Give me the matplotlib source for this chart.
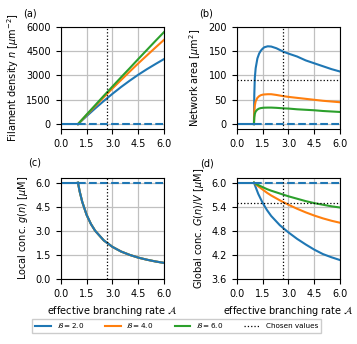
import matplotlib
matplotlib.use("Agg")
import matplotlib.pyplot as plt

plt.rcParams['font.size'] = 7

# effective branching rate grid
A = [1.0, 1.5, 2.0, 2.5, 3.0, 3.5, 4.0, 4.5, 5.0, 5.5, 6.0]
A_b = [1.0, 1.02, 1.05, 1.1, 1.2, 1.3, 1.4, 1.5, 1.6, 1.8, 2.0, 2.3, 2.7,
       3.0, 3.5, 4.0, 4.5, 5.0, 5.5, 6.0]
A_c = [1.0, 1.1, 1.25, 1.5, 1.75, 2.0, 2.5, 3.0, 3.5, 4.0, 4.5, 5.0, 5.5, 6.0]
A_d = [1.0, 1.25, 1.5, 1.75, 2.0, 2.5, 3.0, 3.5, 4.0, 4.5, 5.0, 5.5, 6.0]

B_labels = [r'$\mathcal{B} = 2.0$', r'$\mathcal{B} = 4.0$', r'$\mathcal{B} = 6.0$']
colors = ['tab:blue', 'tab:orange', 'tab:green']

# (a) filament density
dens_B2 = [0, 490, 970, 1430, 1870, 2290, 2680, 3050, 3390, 3710, 4020]
dens_B4 = [0, 560, 1110, 1660, 2200, 2720, 3240, 3750, 4240, 4730, 5210]
dens_B6 = [0, 590, 1170, 1750, 2320, 2890, 3450, 4020, 4580, 5140, 5690]

# (b) network area
area_B2 = [0, 60, 95, 115, 135, 145, 151, 155, 158, 160, 159.5, 156, 149,
           145, 139, 131, 125, 119, 113, 108]
area_B4 = [0, 25, 38, 47, 54, 57.5, 59.5, 60.5, 61, 61.5, 61.5, 60, 57.5,
           56, 54, 52, 50, 48, 46.5, 45]
area_B6 = [0, 14, 21, 26, 30, 32, 33, 33.5, 33.8, 34, 34, 33.5, 32.5,
           32, 30.5, 29.5, 28.5, 27, 26, 25]

# (c) local concentration (same for all B)
local_g = [6.0, 5.45, 4.8, 4.0, 3.43, 3.0, 2.4, 2.0, 1.71, 1.5, 1.33, 1.2,
           1.09, 1.0]

# (d) global concentration
glob_B2 = [6.0, 5.72, 5.5, 5.32, 5.17, 4.94, 4.76, 4.6, 4.46, 4.33, 4.22,
           4.14, 4.07]
glob_B4 = [6.0, 5.91, 5.83, 5.75, 5.68, 5.56, 5.45, 5.35, 5.26, 5.18, 5.11,
           5.05, 5.0]
glob_B6 = [6.0, 5.94, 5.89, 5.84, 5.8, 5.73, 5.66, 5.6, 5.54, 5.49, 5.45,
           5.41, 5.38]

# trivial branch
A_triv_stable = [0.0, 1.0]
A_triv_unstable = [1.0, 6.0]

# chosen values
A_chosen = 2.7
area_chosen = 90
glob_chosen = 5.5

fig = plt.figure(figsize=(3.57, 3.44), dpi=100)
ax_a = fig.add_axes([0.170, 0.625, 0.290, 0.297])
ax_b = fig.add_axes([0.663, 0.625, 0.290, 0.297])
ax_c = fig.add_axes([0.170, 0.189, 0.290, 0.294])
ax_d = fig.add_axes([0.663, 0.189, 0.290, 0.294])

handles = []
for y, c, lab in zip([dens_B2, dens_B4, dens_B6], colors, B_labels):
    h, = ax_a.plot(A, y, color=c, lw=1.5, label=lab)
    handles.append(h)
for y, c in zip([area_B2, area_B4, area_B6], colors):
    ax_b.plot(A_b, y, color=c, lw=1.5)
for c in colors[::-1]:
    ax_c.plot(A_c, local_g, color=c, lw=1.5)
for y, c in zip([glob_B2, glob_B4, glob_B6], colors):
    ax_d.plot(A_d, y, color=c, lw=1.5)

for ax, val in [(ax_a, 0), (ax_b, 0), (ax_c, 6.0), (ax_d, 6.0)]:
    ax.plot(A_triv_stable, [val, val], color='tab:blue', lw=1.5)
    ax.plot(A_triv_unstable, [val, val], color='tab:blue', lw=1.5, ls='--')
    h_ch = ax.axvline(A_chosen, color='black', ls=':', lw=0.9,
                      label='Chosen values')

ax_b.axhline(area_chosen, color='black', ls=':', lw=0.9)
ax_d.axhline(glob_chosen, color='black', ls=':', lw=0.9)
handles.append(h_ch)

xt = [0.0, 1.5, 3.0, 4.5, 6.0]
for ax in [ax_a, ax_b, ax_c, ax_d]:
    ax.set_xlim(0, 6)
    ax.set_xticks(xt)
    ax.set_xticklabels(['0.0', '1.5', '3.0', '4.5', '6.0'])
    ax.grid(True, color='#c0c0c0', lw=0.9)
    ax.set_axisbelow(True)

ax_a.set_ylim(-300, 6000)
ax_a.set_yticks([0, 1500, 3000, 4500, 6000])
ax_b.set_ylim(-10, 200)
ax_b.set_yticks([0, 50, 100, 150, 200])
ax_c.set_ylim(0, 6.3)
ax_c.set_yticks([0.0, 1.5, 3.0, 4.5, 6.0])
ax_d.set_ylim(3.6, 6.12)
ax_d.set_yticks([3.6, 4.2, 4.8, 5.4, 6.0])

ax_a.set_ylabel(r'Filament density $n$ [$\mu$m$^{-2}$]')
ax_b.set_ylabel(r'Network area [$\mu$m$^2$]')
ax_c.set_ylabel(r'Local conc. $g(n)$ [$\mu$M]')
ax_d.set_ylabel(r'Global conc. $G(n)/V$ [$\mu$M]')
ax_c.set_xlabel(r'effective branching rate $\mathcal{A}$')
ax_d.set_xlabel(r'effective branching rate $\mathcal{A}$')

fig.text(30 / 357, 1 - 14 / 344, '(a)', ha='center', va='center')
fig.text(206 / 357, 1 - 14 / 344, '(b)', ha='center', va='center')
fig.text(35 / 357, 1 - 163 / 344, '(c)', ha='center', va='center')
fig.text(207 / 357, 1 - 164 / 344, '(d)', ha='center', va='center')

fig.legend(handles=handles, loc='center', bbox_to_anchor=(0.495, 1 - 326 / 344),
           ncol=4, fontsize=5.2, handlelength=2.2, columnspacing=2.9,
           fancybox=False, framealpha=1, edgecolor='#cccccc')

fig.savefig('out.png', dpi=100)
